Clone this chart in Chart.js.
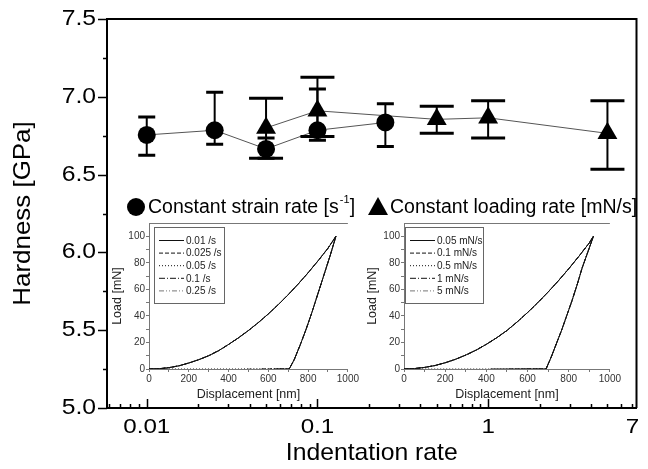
<!DOCTYPE html>
<html>
<head>
<meta charset="utf-8">
<script src="https://cdn.jsdelivr.net/npm/chart.js@4.4.0/dist/chart.umd.min.js"></script>
<style>
  body { margin: 0; background: #fff; }
  #wrap { position: relative; width: 648px; height: 469px; }
  canvas { position: absolute; }
</style>
</head>
<body>
<div id="wrap">
  <canvas id="main" width="648" height="469" style="left:0;top:0"></canvas>
  <canvas id="insetA" width="255" height="190" style="left:105px;top:212px"></canvas>
  <canvas id="insetB" width="262" height="190" style="left:360px;top:212px"></canvas>
</div>
<script>
// main chart: hardness vs indentation rate
var strainRate = [0.01, 0.025, 0.05, 0.1, 0.25];
var strainHard = [6.755, 6.785, 6.665, 6.785, 6.835];
var strainHi = [6.87, 7.03, 6.735, 7.05, 6.955];
var strainLo = [6.625, 6.695, 6.605, 6.72, 6.68];

var loadRate = [0.05, 0.1, 0.5, 1, 5];
var loadHard = [6.80, 6.91, 6.855, 6.865, 6.765];
var loadHi = [6.99, 7.125, 6.94, 6.975, 6.975];
var loadLo = [6.605, 6.745, 6.765, 6.735, 6.535];

var xTicks = [0.006, 0.007, 0.008, 0.009, 0.01, 0.02, 0.03, 0.04, 0.05, 0.06, 0.07, 0.08, 0.09,
              0.1, 0.2, 0.3, 0.4, 0.5, 0.6, 0.7, 0.8, 0.9, 1, 2, 3, 4, 5, 6, 7];
var xMajor = [0.01, 0.1, 1];
var xLabels = ['0.01', '0.1', '1', '7'];
var xLabelAt = [0.01, 0.1, 1, 7];
var yTicks = [5, 5.25, 5.5, 5.75, 6, 6.25, 6.5, 6.75, 7, 7.25, 7.5];
var yLabels = ['5.0', '5.5', '6.0', '6.5', '7.0', '7.5'];
var yLabelAt = [5, 5.5, 6, 6.5, 7, 7.5];

// inset curves: load [mN] vs displacement [nm]
var dispLoadA = [0, 50, 100, 150, 200, 250, 300, 350, 400, 450, 500, 550, 600, 650, 700, 750, 800, 850, 900, 940];
var loadLoadA = [0, 0.2, 1, 2.4, 4.5, 7, 10, 13.8, 18.5, 23.5, 29, 35, 41.5, 48.5, 56, 64, 72.5, 81.5, 91, 100];
var dispUnloadA = [940, 910, 880, 850, 820, 790, 760, 730, 705];
var loadUnloadA = [100, 85, 71, 57, 43, 30, 18, 7, 0];
var tailA = [640, 560, 10, 610, 470];
var labelsA = ['0.01 /s', '0.025 /s', '0.05 /s', '0.1 /s', '0.25 /s'];

var dispLoadB = [0, 50, 100, 150, 200, 250, 300, 350, 400, 450, 500, 550, 600, 650, 700, 750, 800, 850, 900, 920];
var loadLoadB = [0, 0.3, 1.2, 2.6, 4.7, 7.3, 10.5, 14.2, 18.6, 23.5, 29, 35.5, 42.5, 50, 58, 66.5, 75.5, 85, 95, 100];
var dispUnloadB = [920, 895, 865, 840, 815, 790, 765, 740, 715, 690];
var loadUnloadB = [100, 89, 76, 63, 51, 40, 29, 19, 9, 0];
var tailB = [420, 500, 10, 560, 600];
var labelsB = ['0.05 mN/s', '0.1 mN/s', '0.5 mN/s', '1 mN/s', '5 mN/s'];

var dashes = [[], [4, 2], [1, 2], [6, 2, 1, 2], [5, 2, 1, 2, 1, 2]];
var insetColors = ['#111', '#111', '#111', '#111', '#777'];

var FONT = '"Liberation Sans", Arial, sans-serif';

function wideText(ctx, txt, x, y, size, sx, align) {
  ctx.save();
  ctx.font = size + 'px ' + FONT;
  ctx.textBaseline = 'middle';
  ctx.textAlign = 'left';
  var w = ctx.measureText(txt).width * sx;
  var x0 = align === 'right' ? x - w : (align === 'center' ? x - w / 2 : x);
  ctx.translate(x0, y);
  ctx.scale(sx, 1);
  ctx.fillText(txt, 0, 0);
  ctx.restore();
  return w;
}

function pts(xs, ys) {
  return xs.map(function(v, i) { return {x: v, y: ys[i]}; });
}

var errorBars = {
  id: 'errorBars',
  afterDatasetsDraw: function(chart) {
    var ctx = chart.ctx, xs = chart.scales.x, ys = chart.scales.y;
    function bars(rates, hi, lo, cap) {
      rates.forEach(function(r, i) {
        var px = xs.getPixelForValue(r);
        var top = ys.getPixelForValue(hi[i]), bot = ys.getPixelForValue(lo[i]);
        ctx.lineWidth = 2;
        ctx.beginPath(); ctx.moveTo(px, top); ctx.lineTo(px, bot); ctx.stroke();
        ctx.lineWidth = 3;
        ctx.beginPath();
        ctx.moveTo(px - cap / 2, top); ctx.lineTo(px + cap / 2, top);
        ctx.moveTo(px - cap / 2, bot); ctx.lineTo(px + cap / 2, bot);
        ctx.stroke();
      });
    }
    ctx.save();
    ctx.strokeStyle = '#000';
    bars(strainRate, strainHi, strainLo, 17);
    bars(loadRate, loadHi, loadLo, 34);
    ctx.restore();
  }
};

var mainDecor = {
  id: 'mainDecor',
  afterDraw: function(chart) {
    var ctx = chart.ctx, a = chart.chartArea, xs = chart.scales.x, ys = chart.scales.y;
    ctx.save();
    ctx.strokeStyle = '#000';
    ctx.lineWidth = 2;
    ctx.beginPath();
    ctx.moveTo(a.left, a.top); ctx.lineTo(a.right, a.top); ctx.lineTo(a.right, a.bottom);
    ctx.stroke();

    ctx.lineWidth = 1.5;
    ctx.beginPath();
    xTicks.forEach(function(v) {
      var px = Math.round(xs.getPixelForValue(v)) + 0.5;
      var len = xMajor.indexOf(v) >= 0 ? 9 : 4;
      ctx.moveTo(px, a.bottom); ctx.lineTo(px, a.bottom - len);
    });
    yTicks.forEach(function(v) {
      var py = Math.round(ys.getPixelForValue(v)) + 0.5;
      var len = yLabelAt.indexOf(v) >= 0 ? 9 : 4;
      ctx.moveTo(a.left, py); ctx.lineTo(a.left - len, py);
    });
    ctx.stroke();

    ctx.fillStyle = '#000';
    xLabelAt.forEach(function(v, i) {
      wideText(ctx, xLabels[i], xs.getPixelForValue(v), 427, 21, 1.15, 'center');
    });
    yLabelAt.forEach(function(v, i) {
      wideText(ctx, yLabels[i], a.left - 11, ys.getPixelForValue(v), 21.5, 1.15, 'right');
    });

    // axis titles
    wideText(ctx, 'Indentation rate', (a.left + a.right) / 2, 453, 24, 1.03, 'center');
    ctx.save();
    ctx.translate(23, (a.top + a.bottom) / 2);
    ctx.rotate(-Math.PI / 2);
    wideText(ctx, 'Hardness [GPa]', 0, 0, 24, 1.08, 'center');
    ctx.restore();

    // legend
    ctx.beginPath(); ctx.arc(136, 207, 9, 0, Math.PI * 2); ctx.fill();
    var w = wideText(ctx, 'Constant strain rate [s', 148, 208, 19.5, 1, 'left');
    wideText(ctx, '-1', 148 + w + 1, 200, 11, 1, 'left');
    wideText(ctx, ']', 148 + w + 11, 208, 19.5, 1, 'left');
    ctx.beginPath();
    ctx.moveTo(378, 197); ctx.lineTo(388, 215); ctx.lineTo(368, 215); ctx.closePath(); ctx.fill();
    wideText(ctx, 'Constant loading rate [mN/s]', 390, 208, 19.5, 1, 'left');
    ctx.restore();
  }
};

new Chart(document.getElementById('main').getContext('2d'), {
  type: 'scatter',
  data: {
    datasets: [{
      label: 'Constant strain rate',
      data: pts(strainRate, strainHard),
      showLine: true,
      borderColor: '#555',
      borderWidth: 1,
      pointStyle: 'circle',
      pointRadius: 9,
      pointBackgroundColor: '#000',
      pointBorderColor: '#000',
      pointBorderWidth: 0
    }, {
      label: 'Constant loading rate',
      data: pts(loadRate, loadHard),
      showLine: true,
      borderColor: '#555',
      borderWidth: 1,
      pointStyle: 'triangle',
      pointRadius: 11.5,
      pointBackgroundColor: '#000',
      pointBorderColor: '#000',
      pointBorderWidth: 0
    }]
  },
  options: {
    responsive: false,
    animation: false,
    layout: { padding: { top: 19, right: 8, left: 0, bottom: 0 } },
    plugins: { legend: { display: false }, tooltip: { enabled: false } },
    scales: {
      x: {
        type: 'logarithmic', min: 0.00585, max: 7.4,
        afterBuildTicks: function(s) { s.ticks = xTicks.map(function(v) { return {value: v}; }); },
        afterFit: function(s) { s.height = 61; },
        ticks: { display: false },
        grid: { display: false },
        border: { color: '#000', width: 2 }
      },
      y: {
        min: 5, max: 7.5,
        afterBuildTicks: function(s) { s.ticks = yTicks.map(function(v) { return {value: v}; }); },
        afterFit: function(s) { s.width = 107; },
        ticks: { display: false },
        grid: { display: false },
        border: { color: '#000', width: 2 }
      }
    }
  },
  plugins: [errorBars, mainDecor]
});

// inset charts
function insetData(dl, ll, du, lu, tails, labels) {
  var curve = pts(dl, ll).concat(pts(du, lu));
  return labels.map(function(lab, i) {
    return {
      label: lab,
      data: curve.concat([{x: tails[i], y: 0}]),
      showLine: true,
      borderColor: insetColors[i],
      borderWidth: 1,
      borderDash: dashes[i],
      pointRadius: 0
    };
  });
}

var insetLegend = {
  id: 'insetLegend',
  afterDraw: function(chart) {
    var ctx = chart.ctx, o = chart.options.plugins.insetLegend;
    ctx.save();
    ctx.strokeStyle = '#666';
    ctx.lineWidth = 1;
    ctx.fillStyle = '#fff';
    ctx.fillRect(o.x, o.y, o.w, o.h);
    ctx.strokeRect(o.x + 0.5, o.y + 0.5, o.w, o.h);
    // top frame line
    var a = chart.chartArea;
    ctx.strokeStyle = '#777';
    ctx.beginPath(); ctx.moveTo(a.left, a.top + 0.5); ctx.lineTo(a.right, a.top + 0.5); ctx.stroke();
    chart.data.datasets.forEach(function(ds, i) {
      var y = o.y + 13.5 + i * 12.6;
      ctx.strokeStyle = ds.borderColor;
      ctx.setLineDash(ds.borderDash);
      ctx.beginPath(); ctx.moveTo(o.x + 5, y); ctx.lineTo(o.x + o.line, y); ctx.stroke();
      ctx.setLineDash([]);
      ctx.fillStyle = '#222';
      ctx.font = '10px ' + FONT;
      ctx.textBaseline = 'middle';
      ctx.fillText(ds.label, o.x + o.line + 2, y + 0.5);
    });
    ctx.restore();
  }
};

function insetOptions(legendBox, rightPad) {
  return {
    responsive: false,
    animation: false,
    layout: { padding: { top: 11, right: rightPad, left: 0, bottom: 0 } },
    plugins: { legend: { display: false }, tooltip: { enabled: false }, insetLegend: legendBox },
    scales: {
      x: {
        type: 'linear', min: 0, max: 1000,
        afterBuildTicks: function(s) {
          var t = []; for (var v = 0; v <= 1000; v += 100) t.push({value: v}); s.ticks = t;
        },
        afterFit: function(s) { s.height = 33; },
        ticks: {
          padding: 1, color: '#333', font: { size: 10, family: FONT }, autoSkip: false, maxRotation: 0,
          callback: function(v) { return v % 200 === 0 ? String(v) : ''; }
        },
        grid: { drawOnChartArea: false, tickLength: 3, color: '#777' },
        border: { color: '#777', width: 1 },
        title: { display: true, text: 'Displacement [nm]', color: '#222', font: { size: 12.5, family: FONT }, padding: { top: 0, bottom: 0 } }
      },
      y: {
        min: 0, max: 110,
        afterBuildTicks: function(s) {
          var t = []; for (var v = 0; v <= 100; v += 10) t.push({value: v}); s.ticks = t;
        },
        afterFit: function(s) { s.width = 44; },
        ticks: {
          padding: 1, color: '#333', font: { size: 10, family: FONT }, autoSkip: false,
          callback: function(v) { return v % 20 === 0 ? String(v) : ''; }
        },
        grid: { drawOnChartArea: false, tickLength: 3, color: '#777' },
        border: { color: '#777', width: 1 },
        title: { display: true, text: 'Load [mN]', color: '#222', font: { size: 12.5, family: FONT }, padding: { top: 5, bottom: 0 } }
      }
    }
  };
}

new Chart(document.getElementById('insetA').getContext('2d'), {
  type: 'scatter',
  data: { datasets: insetData(dispLoadA, loadLoadA, dispUnloadA, loadUnloadA, tailA, labelsA) },
  options: insetOptions({ x: 49, y: 15, w: 70, h: 76, line: 30 }, 8),
  plugins: [insetLegend]
});

new Chart(document.getElementById('insetB').getContext('2d'), {
  type: 'scatter',
  data: { datasets: insetData(dispLoadB, loadLoadB, dispUnloadB, loadUnloadB, tailB, labelsB) },
  options: insetOptions({ x: 45, y: 15, w: 78, h: 76, line: 30 }, 7),
  plugins: [insetLegend]
});
</script>
</body>
</html>
